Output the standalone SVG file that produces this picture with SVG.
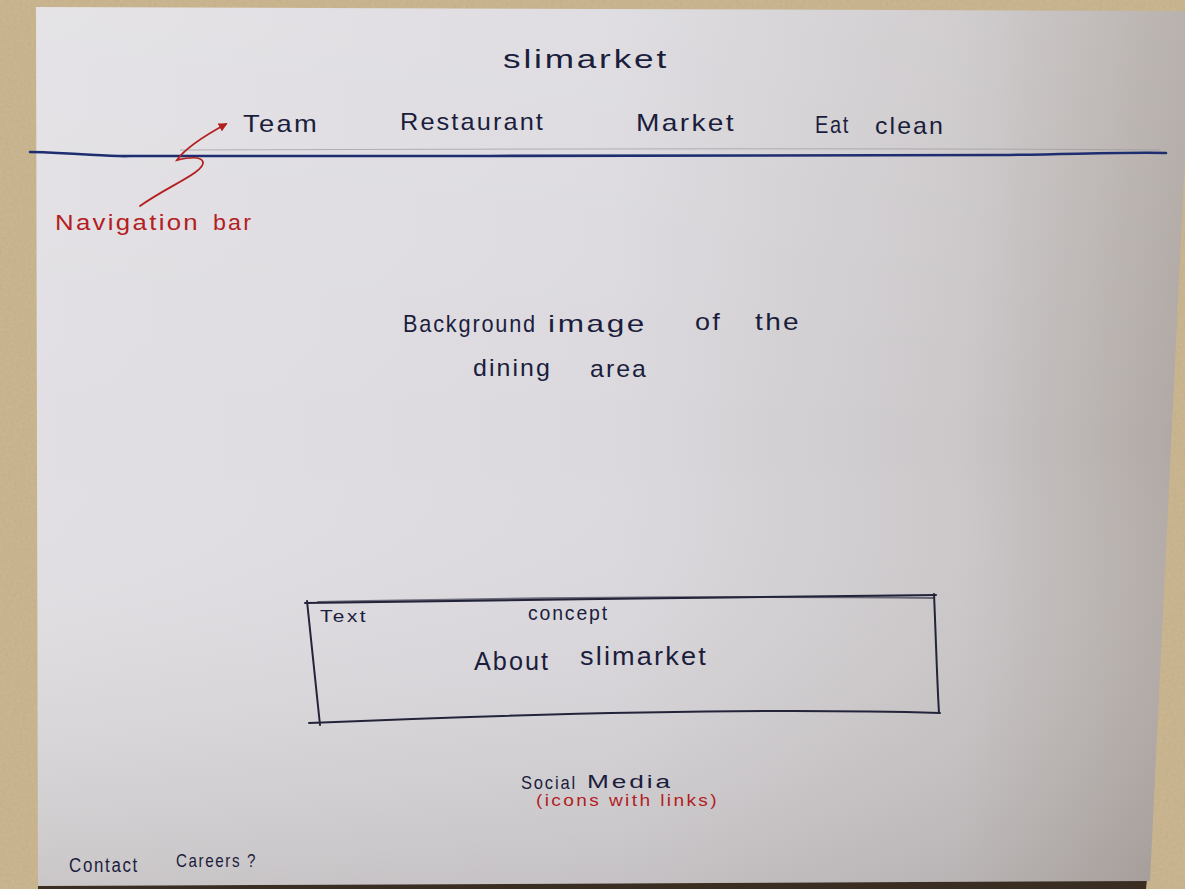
<svg xmlns="http://www.w3.org/2000/svg" width="1185" height="889" viewBox="0 0 1185 889">
  <defs>
    <linearGradient id="paperH" x1="0" y1="0" x2="1" y2="0">
      <stop offset="0" stop-color="#e1dfe3"/>
      <stop offset="0.5" stop-color="#dbd9de"/>
      <stop offset="0.8" stop-color="#cbc7c9"/>
      <stop offset="1" stop-color="#aea6a1"/>
    </linearGradient>
    <linearGradient id="paperV" x1="0" y1="0" x2="0" y2="1">
      <stop offset="0" stop-color="#ffffff" stop-opacity="0.12"/>
      <stop offset="0.5" stop-color="#ffffff" stop-opacity="0"/>
      <stop offset="1" stop-color="#6e645e" stop-opacity="0.2"/>
    </linearGradient>
    <filter id="wallGrain" x="0" y="0" width="100%" height="100%">
      <feTurbulence type="fractalNoise" baseFrequency="0.35" numOctaves="2" seed="4" result="n"/>
      <feColorMatrix in="n" type="matrix" values="0 0 0 0 0.45  0 0 0 0 0.38  0 0 0 0 0.25  0 0 0 0.9 -0.2" result="c"/>
      <feComposite in="c" in2="SourceGraphic" operator="in"/>
    </filter>
    <marker id="redHead" viewBox="0 0 10 10" refX="8" refY="5" markerWidth="9" markerHeight="9" orient="auto" markerUnits="userSpaceOnUse">
      <path d="M0,0 L10,5 L0,10 Z" fill="#b3201f"/>
    </marker>
    <style>
      .ink { font-family: "Liberation Sans", "DejaVu Sans", sans-serif; fill: #1b1d3c; letter-spacing: 2px; }
      .red { font-family: "Liberation Sans", "DejaVu Sans", sans-serif; fill: #b3201f; letter-spacing: 2px; }
      .pen { fill: none; stroke: #23243a; stroke-width: 2; stroke-linecap: round; stroke-linejoin: round; }
    </style>
  </defs>

  <!-- wall behind the sheet -->
  <g id="wall">
    <rect x="0" y="0" width="1185" height="889" fill="#cbb68f"/>
    <rect x="0" y="0" width="1185" height="889" fill="#000" filter="url(#wallGrain)" opacity="0.6"/>
    <polygon points="38,884 1147,879 1146,889 38,889" fill="#3a2e23"/>
  </g>

  <!-- sheet of paper -->
  <g id="paper">
    <polygon points="36,7 1192,11 1150,881 38,886" fill="url(#paperH)"/>
    <polygon points="36,7 1192,11 1150,881 38,886" fill="url(#paperV)"/>
  </g>

  <!-- header -->
  <g id="title">
    <text class="ink" x="503" y="68" font-size="25" textLength="166" lengthAdjust="spacingAndGlyphs">slimarket</text>
  </g>

  <g id="nav-items">
    <text class="ink" x="243" y="132" font-size="24" textLength="76" lengthAdjust="spacingAndGlyphs">Team</text>
    <text class="ink" x="400" y="130" font-size="24" textLength="145" lengthAdjust="spacingAndGlyphs">Restaurant</text>
    <text class="ink" x="636" y="131" font-size="24" textLength="100" lengthAdjust="spacingAndGlyphs">Market</text>
    <text class="ink" x="815" y="133" font-size="24" textLength="35" lengthAdjust="spacingAndGlyphs">Eat</text>
    <text class="ink" x="875" y="134" font-size="24" textLength="70" lengthAdjust="spacingAndGlyphs">clean</text>
  </g>

  <!-- navigation bar rule -->
  <g id="nav-rule">
    <path d="M180,150 C500,149 900,148 1160,150" fill="none" stroke="#9a98a0" stroke-width="1" opacity="0.7"/>
    <path d="M30,152 C80,153 110,157 130,156 C400,156 800,156 1000,155 C1080,154 1130,152 1166,153" fill="none" stroke="#1d2d70" stroke-width="2.6" stroke-linecap="round"/>
  </g>

  <!-- annotation -->
  <g id="nav-note">
    <text class="red" x="55" y="230" font-size="22" textLength="145" lengthAdjust="spacingAndGlyphs">Navigation</text>
    <text class="red" x="213" y="230" font-size="22" textLength="40" lengthAdjust="spacingAndGlyphs">bar</text>
  </g>

  <g id="connectors">
    <path d="M140,206 C168,186 205,172 203,162 C201,155 186,158 177,160 C184,150 204,136 226,124" fill="none" stroke="#b3201f" stroke-width="1.8" stroke-linecap="round" marker-end="url(#redHead)"/>
  </g>

  <!-- hero placeholder -->
  <g id="hero">
    <text class="ink" x="403" y="332" font-size="24" textLength="134" lengthAdjust="spacingAndGlyphs">Background</text>
    <text class="ink" x="548" y="332" font-size="24" textLength="99" lengthAdjust="spacingAndGlyphs">image</text>
    <text class="ink" x="695" y="330" font-size="24" textLength="27" lengthAdjust="spacingAndGlyphs">of</text>
    <text class="ink" x="755" y="330" font-size="24" textLength="46" lengthAdjust="spacingAndGlyphs">the</text>
    <text class="ink" x="473" y="376" font-size="24" textLength="79" lengthAdjust="spacingAndGlyphs">dining</text>
    <text class="ink" x="590" y="377" font-size="24" textLength="58" lengthAdjust="spacingAndGlyphs">area</text>
  </g>

  <!-- concept text box -->
  <g id="concept-box">
    <path class="pen" d="M305,603 C500,600 750,597 936,595"/>
    <path class="pen" d="M318,602 C520,598 760,596 933,598" stroke-width="1" opacity="0.6"/>
    <path class="pen" d="M934,594 C936,640 937,680 939,713"/>
    <path class="pen" d="M940,713 C740,707 500,715 309,723"/>
    <path class="pen" d="M307,601 C312,650 316,690 320,725"/>
    <text class="ink" x="320" y="622" font-size="17" textLength="48" lengthAdjust="spacingAndGlyphs">Text</text>
    <text class="ink" x="528" y="620" font-size="21" textLength="81" lengthAdjust="spacingAndGlyphs">concept</text>
    <text class="ink" x="474" y="670" font-size="25" textLength="76" lengthAdjust="spacingAndGlyphs">About</text>
    <text class="ink" x="580" y="665" font-size="25" textLength="128" lengthAdjust="spacingAndGlyphs">slimarket</text>
  </g>

  <!-- footer -->
  <g id="social">
    <text class="ink" x="521" y="789" font-size="18" textLength="56" lengthAdjust="spacingAndGlyphs">Social</text>
    <text class="ink" x="587" y="788" font-size="18" textLength="86" lengthAdjust="spacingAndGlyphs">Media</text>
    <text class="red" x="536" y="806" font-size="16" textLength="183" lengthAdjust="spacingAndGlyphs">(icons with links)</text>
  </g>

  <g id="footer-links">
    <text class="ink" x="69" y="872" font-size="20" textLength="70" lengthAdjust="spacingAndGlyphs">Contact</text>
    <text class="ink" x="176" y="867" font-size="19" textLength="81" lengthAdjust="spacingAndGlyphs">Careers ?</text>
  </g>
</svg>
